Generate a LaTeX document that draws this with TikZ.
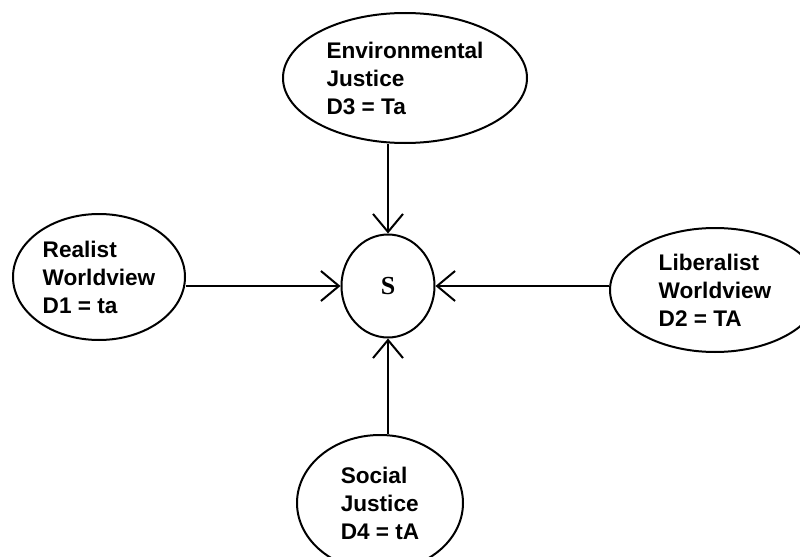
\documentclass[tikz,border=0pt]{standalone}
\usepackage{fontspec}
\setmainfont{Liberation Sans}
\newfontfamily\serifs{Liberation Serif}
\usetikzlibrary{shapes.geometric,arrows.meta}

\begin{document}
\begin{tikzpicture}[x=0.5pt,y=-0.5pt,
  view/.style={ellipse,draw,line width=1pt,inner sep=0pt,align=left,
    font=\bfseries\fontsize{11.3}{14}\selectfont},
  link/.style={line width=1pt,-{Straight Barb[length=9pt,width=15pt]}}]
  \useasboundingbox (0,0) rectangle (800,557);
  \fill[white] (0,0) rectangle (800,557);
  \clip (0,0) rectangle (800,557);
  \node[view,minimum width=122pt,minimum height=65pt] (d3) at (405,78) {Environmental\\Justice\\D3 = Ta};
  \node[view,minimum width=86pt,minimum height=63pt] (d1) at (99,277) {Realist\\Worldview\\D1 = ta};
  \node[view,minimum width=105pt,minimum height=62pt] (d2) at (715,290) {Liberalist\\Worldview\\D2 = TA};
  \node[view,minimum width=83pt,minimum height=68pt] (d4) at (380,503) {Social\\Justice\\D4 = tA};
  \node[view,minimum width=46.5pt,minimum height=51.5pt,
    font=\serifs\bfseries\fontsize{13}{15}\selectfont] (s) at (388,286) {S};
  \draw[link] (s |- d3.south) -- (s.north);
  \draw[link] (s -| d1.east) -- (s.west);
  \draw[link] (s -| d2.west) -- (s.east);
  \draw[link] (s |- d4.north) -- (s.south);
\end{tikzpicture}
\end{document}
